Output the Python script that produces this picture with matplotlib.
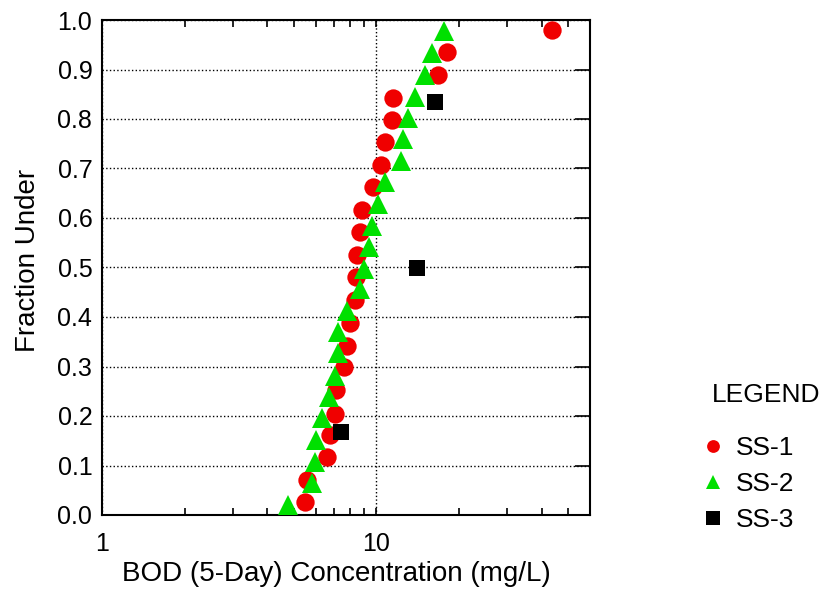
import matplotlib
matplotlib.use("Agg")
import matplotlib.pyplot as plt
from matplotlib.lines import Line2D
from matplotlib.ticker import FixedLocator, NullFormatter, FixedFormatter, MultipleLocator, FormatStrFormatter

plt.rcParams['font.family'] = ['Liberation Sans', 'DejaVu Sans']

# ---- data ----
ss1_bod = [5.48, 5.59, 6.58, 6.76, 7.07, 7.11, 7.60, 7.78, 8.00, 8.36, 8.41,
           8.50, 8.69, 8.86, 9.72, 10.4, 10.7, 11.4, 11.5, 16.7, 18.1, 43.6]
ss1_frac = [0.026, 0.071, 0.117, 0.162, 0.205, 0.253, 0.298, 0.342, 0.388, 0.434, 0.480,
            0.525, 0.571, 0.616, 0.662, 0.708, 0.753, 0.798, 0.843, 0.889, 0.935, 0.980]

ss2_bod = [4.76, 5.80, 5.96, 6.01, 6.34, 6.70, 7.05, 7.25, 7.25, 7.81, 8.69, 9.01,
           9.40, 9.64, 10.1, 10.7, 12.3, 12.5, 13.0, 13.8, 15.0, 16.0, 17.7]
ss2_frac = [0.020, 0.064, 0.108, 0.152, 0.195, 0.239, 0.281, 0.327, 0.369, 0.412, 0.456, 0.497,
            0.541, 0.584, 0.628, 0.672, 0.716, 0.759, 0.803, 0.845, 0.889, 0.934, 0.978]

ss3_bod = [7.42, 14.0, 16.4]
ss3_frac = [0.168, 0.500, 0.834]

series_labels = ["SS-1", "SS-2", "SS-3"]
x_ticks = [1, 10]
x_ticklabels = ["1", "10"]

RED = '#F00000'
GREEN = '#00E000'
BLACK = '#000000'

fig = plt.figure(figsize=(8.28, 5.96), dpi=100)
ax = fig.add_axes([102/828, 1 - 515/596, (590-102)/828, (515-20)/596])

ax.plot(ss1_bod, ss1_frac, linestyle='none', marker='o', markersize=13.2,
        color=RED, markeredgewidth=0, zorder=3)
ax.plot(ss2_bod, ss2_frac, linestyle='none', marker='^', markersize=14.0,
        color=GREEN, markeredgewidth=0, zorder=4)
ax.plot(ss3_bod, ss3_frac, linestyle='none', marker='s', markersize=11.0,
        color=BLACK, markeredgewidth=0, zorder=5)

ax.set_xscale('log')
ax.set_xlim(1, 60)
ax.set_ylim(0, 1.0)

ax.xaxis.set_major_locator(FixedLocator(x_ticks))
ax.xaxis.set_major_formatter(FixedFormatter(x_ticklabels))
ax.xaxis.set_minor_locator(FixedLocator([2, 3, 4, 5, 6, 7, 8, 9, 20, 30, 40, 50]))
ax.xaxis.set_minor_formatter(NullFormatter())
ax.yaxis.set_major_locator(MultipleLocator(0.1))
ax.yaxis.set_major_formatter(FormatStrFormatter('%.1f'))

ax.tick_params(axis='x', which='both', direction='in', top=True, bottom=True,
               length=5, width=1.2, labelsize=18, pad=12)
ax.tick_params(axis='y', which='major', direction='in', left=False, right=True,
               length=10.5, width=1.2, labelsize=18, pad=7)

ax.grid(True, which='major', linestyle=':', color='black', linewidth=1.0, zorder=1)
ax.set_axisbelow(True)

for sp in ax.spines.values():
    sp.set_linewidth(1.5)
    sp.set_color('black')

ax.set_xlabel("BOD (5-Day) Concentration (mg/L)", fontsize=20, labelpad=4)
ax.set_ylabel("Fraction Under", fontsize=20, labelpad=12)
ax.xaxis.label.set_x((336 - 102) / 488)
ax.yaxis.label.set_y((515 - 260.5) / 495)

handles = [
    Line2D([], [], linestyle='none', marker='o', markersize=9.2, color=RED, markeredgewidth=0),
    Line2D([], [], linestyle='none', marker='^', markersize=10.3, color=GREEN, markeredgewidth=0),
    Line2D([], [], linestyle='none', marker='s', markersize=9.5, color=BLACK, markeredgewidth=0),
]
leg = fig.legend(handles, series_labels, title="LEGEND", loc='upper left',
                 bbox_to_anchor=(712/828, 1 - 383/596), frameon=False,
                 fontsize=19, title_fontsize=19, alignment='left',
                 handlelength=0.1, handletextpad=0.8, labelspacing=0.45,
                 borderpad=0.0, borderaxespad=0.0)
leg._legend_box.sep = 21

fig.savefig("out.png", dpi=100)
